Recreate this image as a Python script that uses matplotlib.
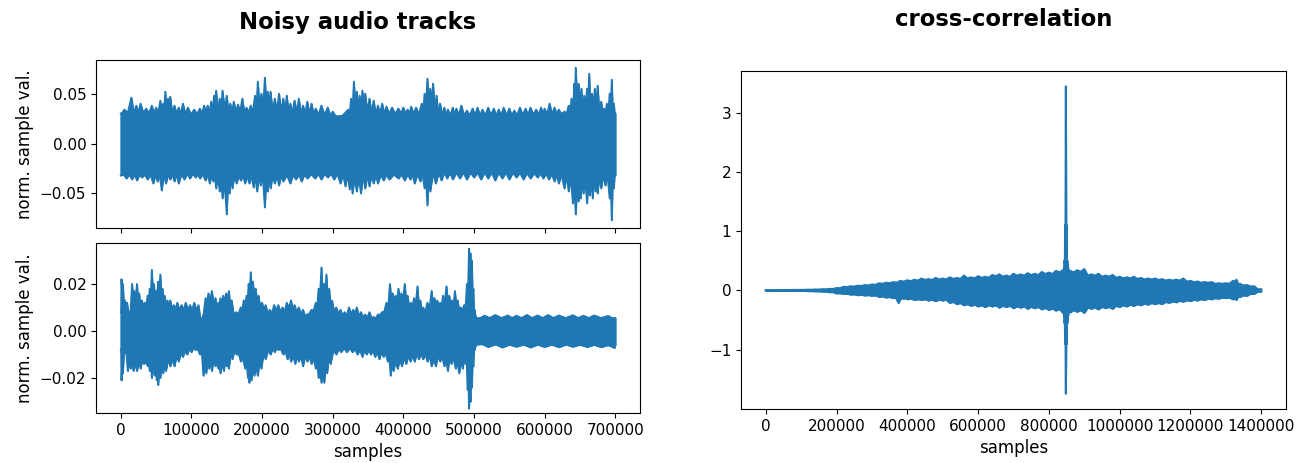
import numpy as np
import matplotlib
matplotlib.use("Agg")
import matplotlib.pyplot as plt

# envelopes (sample index, normalised value)

# track 1: base noise band
trk1_base_x = [0, 50000, 100000, 150000, 200000, 250000, 300000, 350000, 400000,
               450000, 500000, 550000, 600000, 650000, 700000]
trk1_base_hi = [0.031, 0.030, 0.029, 0.031, 0.031, 0.030, 0.028, 0.029, 0.030,
                0.028, 0.028, 0.028, 0.029, 0.030, 0.030]
trk1_base_lo = [-0.031, -0.031, -0.030, -0.032, -0.032, -0.031, -0.030, -0.031, -0.031,
                -0.029, -0.029, -0.029, -0.030, -0.032, -0.031]

# track 1: upper edge
trk1_peak_x = [0, 5000, 15000, 22000, 28000, 36000, 44000, 50000, 56000, 60000, 63000, 67000, 70000,
               76000, 82000, 88000, 95000, 104000, 112000, 118000, 123000, 128000, 132000, 135000,
               140000, 144000, 150000, 155000, 160000, 166000, 172000, 178000, 184000, 190000,
               194000, 199000, 204000, 208000, 212000, 218000, 224000, 230000, 235000, 240000,
               246000, 252000, 258000, 264000, 270000, 276000, 284000, 293000, 300000, 307000,
               322000, 326000, 330000, 334000, 338000, 342000, 346000, 352000, 358000, 364000,
               370000, 376000, 384000, 393000, 400000, 406000, 411000, 418000, 426000, 430000,
               434000, 438000, 442000, 447000, 452000, 458000, 463000, 470000, 475000, 482000,
               490000, 498000, 505000, 512000, 520000, 528000, 535000, 542000, 550000, 557000,
               565000, 573000, 580000, 588000, 595000, 600000, 607000, 614000, 620000, 628000,
               634000, 638000, 642000, 644000, 648000, 652000, 656000, 660000, 663000, 667000,
               671000, 675000, 680000, 684000, 688000, 692000, 695000, 698000, 700000]
trk1_peak_hi = [0.030, 0.034, 0.046, 0.038, 0.040, 0.035, 0.038, 0.036, 0.043, 0.040, 0.052, 0.045,
                0.047, 0.038, 0.036, 0.040, 0.036, 0.034, 0.035, 0.038, 0.038, 0.042, 0.048, 0.053,
                0.045, 0.053, 0.048, 0.040, 0.042, 0.039, 0.045, 0.036, 0.038, 0.048,
                0.062, 0.050, 0.066, 0.052, 0.052, 0.045, 0.050, 0.045, 0.048, 0.040,
                0.043, 0.045, 0.038, 0.042, 0.040, 0.035, 0.038, 0.036, 0.032, 0.026,
                0.034, 0.045, 0.062, 0.052, 0.048, 0.053, 0.050, 0.045, 0.043, 0.038,
                0.040, 0.037, 0.036, 0.035, 0.036, 0.034, 0.037, 0.036, 0.040, 0.050,
                0.065, 0.055, 0.060, 0.048, 0.040, 0.036, 0.034, 0.036, 0.035, 0.038,
                0.033, 0.035, 0.036, 0.034, 0.036, 0.035, 0.034, 0.036, 0.035, 0.033,
                0.036, 0.035, 0.036, 0.034, 0.036, 0.035, 0.040, 0.036, 0.034, 0.032,
                0.038, 0.045, 0.060, 0.076, 0.060, 0.055, 0.048, 0.055, 0.070, 0.050,
                0.055, 0.058, 0.042, 0.035, 0.040, 0.050, 0.064, 0.040, 0.030]

# track 1: lower edge
trk1_dip_x = [0, 8000, 16000, 23000, 30000, 38000, 46000, 52000, 58000, 64000, 70000, 76000, 82000,
              90000, 98000, 106000, 112000, 120000, 126000, 131000, 135000, 140000, 144000,
              150000, 154000, 158000, 164000, 170000, 176000, 182000, 188000, 193000, 198000,
              204000, 208000, 212000, 218000, 224000, 230000, 240000, 248000, 256000, 264000,
              275000, 284000, 293000, 302000, 311000, 318000, 324000, 328000, 334000, 340000,
              346000, 352000, 358000, 364000, 372000, 380000, 393000, 402000, 410000, 416000,
              424000, 430000, 434000, 438000, 446000, 454000, 462000, 470000, 480000, 490000,
              500000, 510000, 520000, 530000, 540000, 550000, 560000, 570000, 580000, 590000,
              598000, 606000, 614000, 620000, 628000, 634000, 640000, 644000, 648000, 651000,
              655000, 660000, 664000, 668000, 672000, 675000, 680000, 686000, 692000, 695000,
              698000, 700000]
trk1_dip_lo = [-0.032, -0.035, -0.036, -0.037, -0.034, -0.036, -0.040, -0.038, -0.047, -0.040, -0.036,
               -0.038, -0.040, -0.036, -0.035, -0.034, -0.035, -0.037, -0.040, -0.038, -0.045,
               -0.048, -0.055, -0.071, -0.050, -0.045, -0.040, -0.037, -0.040, -0.040, -0.044,
               -0.048, -0.042, -0.064, -0.048, -0.045, -0.040, -0.042, -0.038, -0.040, -0.036,
               -0.038, -0.035, -0.035, -0.036, -0.034, -0.036, -0.040, -0.043, -0.046, -0.050,
               -0.048, -0.050, -0.045, -0.043, -0.040, -0.040, -0.037, -0.036, -0.035, -0.037,
               -0.036, -0.040, -0.038, -0.045, -0.062, -0.048, -0.040, -0.037, -0.035, -0.036,
               -0.035, -0.036, -0.034, -0.036, -0.035, -0.037, -0.035, -0.036, -0.034, -0.036,
               -0.035, -0.034, -0.035, -0.036, -0.038, -0.040, -0.045, -0.048, -0.060, -0.071,
               -0.058, -0.055, -0.050, -0.060, -0.052, -0.055, -0.048, -0.050, -0.045, -0.042,
               -0.055, -0.077, -0.045, -0.032]

# track 2: base noise band
trk2_base_x = [0, 10000, 20000, 40000, 60000, 80000, 100000, 115000, 120000, 140000, 160000,
               180000, 200000, 220000, 240000, 260000, 280000, 300000, 320000, 340000, 360000,
               380000, 400000, 420000, 440000, 460000, 480000, 490000, 500000, 503000, 550000,
               600000, 650000, 700000]
trk2_base_hi = [0.008, 0.008, 0.010, 0.010, 0.010, 0.009, 0.008, 0.005, 0.010, 0.010, 0.006,
                0.010, 0.008, 0.007, 0.008, 0.006, 0.010, 0.008, 0.006, 0.006, 0.005,
                0.010, 0.010, 0.008, 0.008, 0.009, 0.008, 0.010, 0.008, 0.0055, 0.0055,
                0.0055, 0.0055, 0.0055]
trk2_base_lo = [-0.008, -0.010, -0.012, -0.013, -0.012, -0.010, -0.007, -0.008, -0.012, -0.012,
                -0.008, -0.013, -0.009, -0.007, -0.009, -0.010, -0.012, -0.008, -0.007, -0.008,
                -0.007, -0.010, -0.010, -0.009, -0.010, -0.011, -0.011, -0.012, -0.008, -0.0055,
                -0.0058, -0.0058, -0.0058, -0.006]

# track 2: upper edge
trk2_peak_x = [0, 1000, 3000, 6000, 9000, 12000, 16000, 19000, 23000, 26000, 30000, 34000, 38000,
               41000, 44000, 47000, 50000, 53000, 56000, 59000, 62000, 66000, 70000, 75000, 80000,
               86000, 92000, 98000, 104000, 110000, 115000, 120000, 124000, 129000, 134000,
               138000, 141000, 145000, 149000, 153000, 157000, 163000, 170000, 174000, 178000,
               181000, 184000, 187000, 191000, 195000, 200000, 205000, 211000, 217000, 223000,
               229000, 235000, 241000, 246000, 252000, 258000, 264000, 270000, 276000, 280000,
               284000, 288000, 291000, 295000, 299000, 305000, 311000, 317000, 323000, 329000,
               334000, 340000, 346000, 352000, 358000, 364000, 370000, 376000, 381000, 385000,
               389000, 393000, 397000, 402000, 406000, 411000, 415000, 420000, 424000, 428000,
               434000, 440000, 444000, 448000, 452000, 456000, 461000, 465000, 469000, 473000,
               477000, 481000, 486000, 490000, 493000, 495000, 497000, 499000, 501000, 503000,
               515000, 530000, 548000, 560000, 575000, 590000, 605000, 620000, 640000, 655000,
               670000, 690000, 700000]
trk2_peak_hi = [0.008, 0.022, 0.020, 0.013, 0.012, 0.006, 0.020, 0.017, 0.020, 0.016, 0.013, 0.012,
                0.015, 0.018, 0.026, 0.020, 0.017, 0.021, 0.024, 0.018, 0.015, 0.013, 0.013,
                0.011, 0.012, 0.011, 0.012, 0.011, 0.012, 0.011, 0.005, 0.014, 0.016, 0.017,
                0.014, 0.012, 0.014, 0.015, 0.016, 0.017, 0.013, 0.008, 0.010, 0.013, 0.015,
                0.020, 0.025, 0.021, 0.018, 0.015, 0.012, 0.011, 0.009, 0.011, 0.011,
                0.010, 0.012, 0.013, 0.011, 0.010, 0.009, 0.007, 0.009, 0.012, 0.018,
                0.027, 0.020, 0.024, 0.018, 0.013, 0.010, 0.009, 0.008, 0.010, 0.009,
                0.010, 0.008, 0.007, 0.008, 0.006, 0.007, 0.008, 0.012, 0.020, 0.016,
                0.015, 0.018, 0.016, 0.020, 0.015, 0.012, 0.014, 0.019, 0.013, 0.010,
                0.012, 0.017, 0.014, 0.013, 0.012, 0.015, 0.019, 0.015, 0.013, 0.017,
                0.013, 0.010, 0.011, 0.020, 0.035, 0.033, 0.030, 0.018, 0.009, 0.0055,
                0.0065, 0.0068, 0.0066, 0.0065, 0.0068, 0.0066, 0.0068, 0.0066, 0.0067, 0.0065,
                0.0066, 0.0064, 0.0055]

# track 2: lower edge
trk2_dip_x = [0, 1000, 3000, 6000, 10000, 14000, 18000, 23000, 28000, 33000, 38000, 41000, 44000,
              48000, 51000, 53000, 56000, 60000, 64000, 70000, 76000, 82000, 88000, 94000, 100000,
              106000, 112000, 117000, 121000, 125000, 129000, 134000, 138000, 141000, 146000,
              150000, 153000, 158000, 164000, 170000, 176000, 180000, 182000, 185000, 189000,
              194000, 199000, 205000, 212000, 218000, 223000, 230000, 236000, 241000, 247000,
              252000, 258000, 264000, 270000, 276000, 280000, 284000, 288000, 292000, 297000,
              305000, 312000, 320000, 328000, 335000, 342000, 348000, 354000, 360000, 366000,
              372000, 378000, 382000, 386000, 392000, 398000, 404000, 410000, 416000, 422000,
              428000, 434000, 440000, 446000, 452000, 458000, 463000, 468000, 474000, 479000,
              484000, 488000, 491000, 493000, 495000, 497000, 499000, 501000, 503000, 520000,
              540000, 560000, 580000, 600000, 620000, 640000, 660000, 680000, 699000, 700000]
trk2_dip_lo = [-0.008, -0.021, -0.018, -0.009, -0.017, -0.016, -0.017, -0.017, -0.016, -0.014,
               -0.015, -0.017, -0.020, -0.019, -0.021, -0.023, -0.020, -0.018, -0.017, -0.015,
               -0.015, -0.013, -0.011, -0.010, -0.009, -0.008, -0.010, -0.019, -0.018, -0.016,
               -0.017, -0.015, -0.016, -0.018, -0.017, -0.015, -0.016, -0.012, -0.010, -0.013,
               -0.016, -0.020, -0.022, -0.021, -0.019, -0.019, -0.016, -0.012, -0.010, -0.009,
               -0.008, -0.010, -0.012, -0.013, -0.014, -0.013, -0.015, -0.013, -0.014, -0.016,
               -0.020, -0.022, -0.022, -0.018, -0.014, -0.010, -0.009, -0.009, -0.009, -0.010,
               -0.011, -0.010, -0.010, -0.011, -0.012, -0.011, -0.013, -0.019, -0.017, -0.016,
               -0.015, -0.014, -0.013, -0.013, -0.012, -0.012, -0.013, -0.015, -0.015, -0.013,
               -0.015, -0.017, -0.014, -0.016, -0.018, -0.016, -0.014, -0.025, -0.033, -0.030,
               -0.024, -0.015, -0.008, -0.0058, -0.0068, -0.0070, -0.0067, -0.0070, -0.0068,
               -0.0069, -0.0067, -0.0068, -0.0069, -0.0072, -0.006]

# cross-correlation: upper and lower edges (peak at lag ~848000)
corr_hi_x = [0, 20000, 40000, 60000, 80000, 100000, 120000, 140000, 160000, 180000, 200000,
             220000, 240000, 260000, 280000, 300000, 320000, 340000, 360000, 380000, 400000,
             420000, 440000, 460000, 480000, 500000, 520000, 540000, 560000, 580000, 600000,
             620000, 640000, 660000, 680000, 700000, 720000, 740000, 760000, 780000, 800000,
             820000, 840000, 844000, 846000, 848000, 850000, 852000, 860000, 880000, 900000,
             920000, 940000, 960000, 980000, 1000000, 1020000, 1040000, 1060000, 1080000,
             1100000, 1120000, 1140000, 1160000, 1180000, 1200000, 1220000, 1240000, 1260000,
             1280000, 1300000, 1320000, 1330000, 1340000, 1360000, 1380000, 1400000]
corr_hi = [0.005, 0.005, 0.006, 0.007, 0.008, 0.009, 0.012, 0.015, 0.020, 0.025, 0.040,
           0.060, 0.070, 0.080, 0.090, 0.100, 0.120, 0.130, 0.140, 0.160, 0.170,
           0.180, 0.200, 0.190, 0.210, 0.200, 0.220, 0.210, 0.250, 0.220, 0.240,
           0.230, 0.260, 0.270, 0.250, 0.280, 0.270, 0.290, 0.280, 0.310, 0.300,
           0.330, 0.340, 0.500, 1.100, 3.440, 1.100, 0.500, 0.330, 0.340, 0.360,
           0.270, 0.280, 0.250, 0.260, 0.230, 0.220, 0.230, 0.210, 0.200,
           0.200, 0.190, 0.180, 0.180, 0.200, 0.160, 0.150, 0.140, 0.140,
           0.120, 0.120, 0.160, 0.180, 0.110, 0.090, 0.070, 0.020]
corr_lo_x = [0, 20000, 40000, 60000, 80000, 100000, 120000, 140000, 160000, 180000, 200000,
             220000, 240000, 260000, 280000, 300000, 320000, 340000, 360000, 375000, 390000,
             400000, 420000, 440000, 460000, 480000, 500000, 520000, 540000, 560000, 580000,
             600000, 620000, 640000, 660000, 680000, 700000, 720000, 740000, 760000, 780000,
             800000, 820000, 840000, 844000, 846000, 848000, 850000, 852000, 860000, 880000,
             900000, 920000, 940000, 960000, 980000, 1000000, 1020000, 1040000, 1060000,
             1080000, 1100000, 1120000, 1140000, 1160000, 1180000, 1200000, 1220000, 1240000,
             1260000, 1280000, 1300000, 1320000, 1330000, 1340000, 1360000, 1380000, 1400000]
corr_lo = [-0.005, -0.005, -0.006, -0.007, -0.008, -0.009, -0.012, -0.015, -0.020, -0.030, -0.050,
           -0.060, -0.070, -0.080, -0.085, -0.090, -0.110, -0.120, -0.130, -0.210, -0.140,
           -0.150, -0.160, -0.160, -0.170, -0.180, -0.170, -0.210, -0.230, -0.250, -0.260,
           -0.270, -0.280, -0.270, -0.290, -0.280, -0.300, -0.290, -0.310, -0.300, -0.320,
           -0.330, -0.340, -0.380, -0.550, -0.900, -1.740, -0.900, -0.550, -0.370, -0.360,
           -0.380, -0.310, -0.320, -0.300, -0.310, -0.280, -0.270, -0.260, -0.250,
           -0.240, -0.230, -0.230, -0.210, -0.200, -0.190, -0.180, -0.170, -0.160,
           -0.150, -0.140, -0.130, -0.150, -0.160, -0.110, -0.090, -0.060, -0.020]

blue = "#1f77b4"
W, H = 1298, 463


def spiky(x, y, bx=None, by=None, f=0.7):
    """put a notch between every pair of read peaks so they show as separate spikes"""
    x = np.asarray(x, dtype=float)
    y = np.asarray(y, dtype=float)
    xm = (x[:-1] + x[1:]) / 2
    mag = f * np.minimum(np.abs(y[:-1]), np.abs(y[1:]))
    if bx is not None:
        mag = np.maximum(mag, np.abs(np.interp(xm, bx, by)))
    ym = np.sign(y[:-1] + y[1:]) * mag
    xs = np.empty(len(x) + len(xm))
    ys = np.empty_like(xs)
    xs[0::2], xs[1::2] = x, xm
    ys[0::2], ys[1::2] = y, ym
    return xs, ys


fig = plt.figure(figsize=(W / 100, H / 100), dpi=100)
ax1 = fig.add_axes([96 / W, 1 - 228 / H, 544 / W, 168 / H])
ax2 = fig.add_axes([96 / W, 1 - 413 / H, 544 / W, 170 / H], sharex=ax1)
ax3 = fig.add_axes([741 / W, 1 - 409 / H, 545 / W, 338 / H])


def draw_track(ax, bx, bhi, blo, px, phi, dx, dlo, f):
    ux, uy = spiky(px, phi, bx, bhi, f)
    lx, ly = spiky(dx, dlo, bx, blo, f)
    ax.fill_between(bx, blo, bhi, color=blue, lw=1.0)
    ax.fill_between(ux, 0, uy, color=blue, lw=0.8)
    ax.fill_between(lx, ly, 0, color=blue, lw=0.8)
    ax.plot(ux, uy, color=blue, lw=1.3)
    ax.plot(lx, ly, color=blue, lw=1.3)
    ax.set_ylabel("norm. sample val.", fontsize=12)
    ax.tick_params(labelsize=11)


draw_track(ax1, trk1_base_x, trk1_base_hi, trk1_base_lo,
           trk1_peak_x, trk1_peak_hi, trk1_dip_x, trk1_dip_lo, 0.7)
draw_track(ax2, trk2_base_x, trk2_base_hi, trk2_base_lo,
           trk2_peak_x, trk2_peak_hi, trk2_dip_x, trk2_dip_lo, 0.8)

ax1.set_xlim(-35000, 735000)
ax1.set_ylim(-0.0847, 0.0837)
ax1.set_yticks([-0.05, 0.0, 0.05])
ax1.tick_params(labelbottom=False)
ax2.set_ylim(-0.0349, 0.0374)
ax2.set_yticks([-0.02, 0.0, 0.02])
ax2.set_xticks(np.arange(0, 700001, 100000))
ax2.set_xlabel("samples", fontsize=12)

cux, cuy = spiky(corr_hi_x, corr_hi, f=0.92)
clx, cly = spiky(corr_lo_x, corr_lo, f=0.92)
ax3.fill_between(cux, 0, cuy, color=blue, lw=0.8)
ax3.fill_between(clx, cly, 0, color=blue, lw=0.8)
ax3.plot(cux, cuy, color=blue, lw=1.5)
ax3.plot(clx, cly, color=blue, lw=1.5)
ax3.set_xlim(-70000, 1470000)
ax3.set_ylim(-2.0, 3.70)
ax3.set_xticks(np.arange(0, 1400001, 200000))
ax3.set_yticks([-1, 0, 1, 2, 3])
ax3.tick_params(labelsize=11)
ax3.set_xlabel("samples", fontsize=12)
for ax in (ax1, ax2, ax3):
    ax.ticklabel_format(axis="x", style="plain")

fig.text(358 / W, 1 - 22 / H, "Noisy audio tracks", ha="center", va="center",
         fontsize=16.4, fontweight="bold")
fig.text(1004 / W, 1 - 20 / H, "cross-correlation", ha="center", va="center",
         fontsize=16.4, fontweight="bold")

fig.savefig("out.png", dpi=100)
